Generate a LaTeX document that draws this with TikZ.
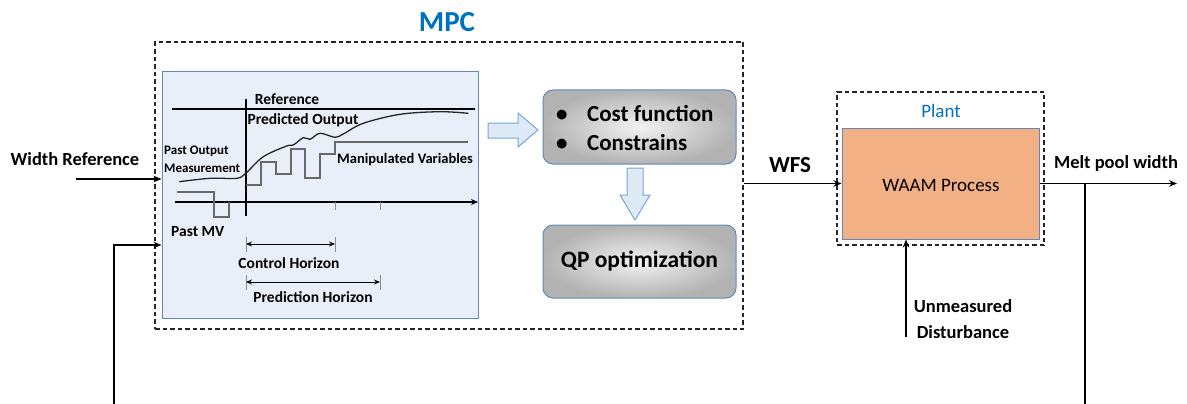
\documentclass[tikz,border=0pt]{standalone}
\usepackage{fontspec}
\setmainfont{Carlito}
\usetikzlibrary{arrows.meta}
\definecolor{mpcblue}{RGB}{0,112,192}
\definecolor{edgeblue}{RGB}{96,137,186}
\definecolor{chartfill}{RGB}{233,239,248}
\definecolor{arrfill}{RGB}{222,235,247}
\definecolor{arredge}{RGB}{120,165,215}
\definecolor{waamfill}{RGB}{242,176,132}
\definecolor{mvgray}{RGB}{105,105,105}
\newcommand\myfs[1]{\fontsize{#1}{#1}\selectfont}
\begin{document}
\begin{tikzpicture}[x=1pt,y=-1pt,
  arr/.style={-{Stealth[length=8pt,width=6.5pt]}, line width=1.4pt},
  dashbox/.style={draw=black!85, dash pattern=on 4.5pt off 3pt, line width=1.1pt, inner sep=0pt},
  gradbox/.style={draw=edgeblue, line width=1pt, rounded corners=10pt, inner color=white!95!black, outer color=black!30, inner sep=0pt},
  hollow/.style={draw=arredge, fill=arrfill, line width=1pt, line join=miter},
  lbl/.style={font=\bfseries\myfs{18.5}, inner sep=0pt},
  chartlbl/.style={font=\bfseries\myfs{15.5}, inner sep=0pt},
  horiz/.style={{Stealth[length=6pt,width=5pt]}-{Stealth[length=6pt,width=5pt]}, line width=1pt},
  tick/.style={draw=black!45, line width=1pt}
]
\useasboundingbox (0,0) rectangle (1187,404);

% MPC container
\node[dashbox, minimum width=588, minimum height=287] (mpc) at (449,185.5) {};
\node[font=\bfseries\myfs{29}, text=mpcblue, inner sep=0pt] (mpclabel) at (447,22.5) {MPC};

% chart box
\node[draw=edgeblue, fill=chartfill, line width=1pt, minimum width=316, minimum height=246, inner sep=0pt] (chart) at (320,195) {};

% chart content
\draw[line width=1.6pt] (172,109) -- (475,109);
\draw[line width=1.6pt] (246,99) -- (246,216);
\draw[line width=1.6pt, -{Stealth[length=7pt,width=6pt]}] (175,202) -- (478,202);
\draw[tick] (335,202) -- (335,210);
\draw[tick] (380,202) -- (380,210);
\draw[line width=1.3pt, black!85] plot[smooth, tension=0.55] coordinates {
  (179.3,181.7) (210,178.3) (236.7,178.3) (245.7,173.3) (263.3,156.7) (286.7,146)
  (293.3,145) (303.3,137.7) (310,139.3) (320,133.3) (335,137.3) (343.3,134)
  (363.3,123.3) (400,114.3) (440,111.7) (468.3,113.3)};
\draw[mvgray, line width=1.3pt] (177,192) -- (214,192) -- (214,217) -- (229,217) -- (229,202);
\draw[mvgray, line width=1.3pt] (246,185) -- (261,185) -- (261,162) -- (276,162) -- (276,174)
  -- (291,174) -- (291,149) -- (305,149) -- (305,178) -- (320,178) -- (320,154)
  -- (335,154) -- (335,142) -- (468,142);

\node[chartlbl] (reflbl) at (287,99) {Reference};
\node[chartlbl] (predlbl) at (303,120) {Predicted Output};
\node[font=\bfseries\myfs{13}, inner sep=0pt, anchor=west, align=left] (pastout) at (164,159)
  {Past Output\\[5pt]Measurement};
\node[font=\bfseries\myfs{14.5}, inner sep=0pt, anchor=west] (mvlbl) at (337,160) {Manipulated Variables};
\node[chartlbl, anchor=west] (pastmv) at (171,232) {Past MV};

% horizons
\coordinate (chL) at (246,244);
\coordinate (chR) at (335,244);
\draw[tick] (246,237) -- (246,252);
\draw[tick] (335,237) -- (335,252);
\draw[horiz] (chL) -- (chR);
\node[chartlbl] (chlbl) at (289,263) {Control Horizon};
\coordinate (phL) at (246,282);
\coordinate (phR) at (380,282);
\draw[tick] (246,275) -- (246,290);
\draw[tick] (380,275) -- (380,290);
\draw[horiz] (phL) -- (phR);
\node[chartlbl] (phlbl) at (313,297) {Prediction Horizon};

% optimisation boxes
\node[gradbox, minimum width=193, minimum height=74] (cost) at (639.5,127) {};
\node[font=\bfseries\myfs{23}, inner sep=0pt, anchor=west, align=left] (costtxt) at (556,128)
  {\makebox[31pt][l]{\textbullet}Cost function\\[6pt]\makebox[31pt][l]{\textbullet}Constrains};
\node[gradbox, minimum width=193, minimum height=73] (qp) at (639.5,261.5) {};
\node[font=\bfseries\myfs{23.5}, inner sep=0pt] (qptxt) at (qp) {QP optimization};

% hollow arrows
\draw[hollow] (488,123) -- (518,123) -- (518,113) -- (538,130) -- (518,147) -- (518,138) -- (488,138) -- cycle;
\draw[hollow] (627,168) -- (643,168) -- (643,195) -- (650,195) -- (635,220) -- (620,195) -- (627,195) -- cycle;

% plant
\node[dashbox, minimum width=207, minimum height=153] (plant) at (940.5,168.5) {};
\node[font=\myfs{19}, text=mpcblue, inner sep=0pt] (plantlbl) at (941,111) {Plant};
\node[draw=edgeblue, fill=waamfill, line width=1pt, minimum width=197, minimum height=111, inner sep=0pt] (waam) at (940.5,183.5) {};
\node[font=\myfs{19}, inner sep=0pt] (waamtxt) at (941,185) {WAAM Process};

% signals
\node[lbl] (wref) at (75,159.5) {Width Reference};
\coordinate (wrefstart) at (76,179);
\draw[arr] (wrefstart) -- (wrefstart -| chart.west);

\node[font=\bfseries\myfs{23}, inner sep=0pt] (wfs) at (790,165) {WFS};
\draw[arr] (mpc.east |- waam.west) -- (waam.west);

\node[lbl] (mpw) at (1116,163) {Melt pool width};
\coordinate (outend) at (1177,183.5);
\draw[arr] (waam.east) -- (outend);

\node[lbl, align=center] (dist) at (963,319) {Unmeasured\\[8pt]Disturbance};
\coordinate (diststart) at (906,337);
\draw[arr] (diststart) -- (diststart |- waam.south);

% feedback loop (bottom part lies below the visible area)
\coordinate (junc) at (1085,183.5);
\coordinate (fbbottom) at (1085,440);
\coordinate (fbin) at (114,245);
\draw[arr] (junc) -- (fbbottom) -| (fbin) -- (fbin -| chart.west);
\end{tikzpicture}
\end{document}
